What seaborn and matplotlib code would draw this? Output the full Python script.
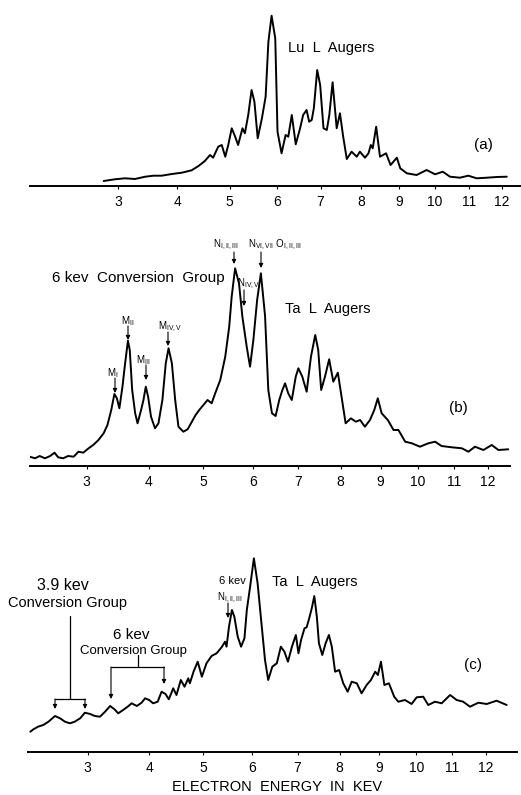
import numpy as np
import matplotlib
matplotlib.use("Agg")
import matplotlib.pyplot as plt
from matplotlib.lines import Line2D
import seaborn as sns

# ---------------- data (energy in keV, intensity in arbitrary units) ----------------
E_a = [2.78, 2.95, 3.11, 3.27, 3.44, 3.58, 3.72, 3.90, 4.08, 4.26, 4.39, 4.51, 4.61, 4.67, 4.77,
       4.84, 4.91, 4.97, 5.04, 5.11, 5.17, 5.26, 5.31, 5.38, 5.45, 5.51, 5.58, 5.67, 5.75, 5.81,
       5.88, 5.96, 6.01, 6.10, 6.19, 6.25, 6.33, 6.42, 6.52, 6.59, 6.67, 6.73, 6.79, 6.84, 6.92,
       6.99, 7.07, 7.15, 7.21, 7.29, 7.39, 7.47, 7.55, 7.64, 7.76, 7.89, 7.97, 8.10, 8.19, 8.25,
       8.30, 8.39, 8.49, 8.65, 8.77, 8.94, 9.03, 9.21, 9.48, 9.76, 10.00, 10.22, 10.43, 10.72,
       10.97, 11.22, 11.53, 11.84, 12.15]
I_a = [5, 6.7, 7.7, 7, 9.3, 10.3, 10.3, 12, 13.3, 15.7, 20, 25, 31, 28.3, 39.3,
       41, 29.3, 41, 57.7, 49.3, 41, 57.7, 52.7, 71, 96, 84.3, 47.7, 67.7, 89.3, 144.3,
       170.3, 147.7, 54.3, 32.7, 51, 49.3, 71, 41.7, 57.7, 71, 76, 64.3, 66, 77.7, 116,
       101, 57.7, 56, 71, 103.7, 57.7, 72.7, 49.3, 27, 34.3, 29.3, 34.3, 28.3, 32.7, 41,
       37.7, 59.3, 29.3, 32.7, 21, 28.3, 17.7, 12.7, 11, 16, 11.7, 14.3, 9.3, 8.3,
       10.3, 7.7, 8.3, 9, 9.3]

E_b = [2.21, 2.28, 2.34, 2.41, 2.48, 2.54, 2.59, 2.66, 2.73, 2.81, 2.88, 2.95, 3.03, 3.10, 3.18,
       3.26, 3.32, 3.38, 3.43, 3.47, 3.51, 3.56, 3.60, 3.65, 3.68, 3.72, 3.77, 3.81, 3.87, 3.91,
       3.95, 3.99, 4.04, 4.11, 4.17, 4.24, 4.30, 4.35, 4.41, 4.47, 4.53, 4.62, 4.70, 4.78, 4.85,
       4.92, 5.00, 5.08, 5.16, 5.23, 5.33, 5.43, 5.51, 5.56, 5.63, 5.71, 5.78, 5.87, 5.94, 6.01,
       6.09, 6.17, 6.26, 6.33, 6.41, 6.49, 6.57, 6.64, 6.70, 6.77, 6.85, 6.94, 7.00, 7.09, 7.19,
       7.29, 7.39, 7.46, 7.53, 7.62, 7.72, 7.82, 7.93, 8.02, 8.12, 8.25, 8.37, 8.48, 8.60, 8.73,
       8.84, 8.93, 9.03, 9.19, 9.34, 9.47, 9.65, 9.83, 10.05, 10.28, 10.47, 10.65, 10.94, 11.23,
       11.42, 11.61, 11.86, 12.11, 12.31, 12.61]
I_b = [9.3, 7.7, 10, 7.7, 10, 13.3, 8.7, 7.7, 10, 9.3, 14.3, 13.3, 17.7, 21, 26,
       32.7, 41, 56, 72, 67.7, 57.7, 79.3, 101, 125.3, 116, 76, 52.7, 42.7, 56, 66,
       79.3, 69.3, 49.3, 37.7, 42.7, 66, 102.7, 117.7, 102.7, 66, 39.3, 34.3, 36.7, 44.3, 51,
       56, 61, 66, 62.7, 72.7, 86, 109.3, 139.3, 169.3, 197.7, 182.7, 149.3, 119.3, 99.3, 126,
       166, 192.7, 150, 76, 52.7, 50, 66, 76, 82.7, 72.7, 66, 89.3, 97.7, 89.3, 74.3,
       109.3, 131, 116, 76, 89.3, 106.7, 84.3, 93.3, 69.3, 42.7, 47.7, 44.3, 46, 39.3, 46,
       56, 67.7, 52.7, 46, 36, 36, 24.3, 22.7, 19.3, 22.7, 24.3, 20, 18.7, 17.7,
       14.3, 19.3, 16, 21, 16, 16.7]

E_c = [2.20, 2.24, 2.30, 2.37, 2.44, 2.53, 2.60, 2.67, 2.74, 2.81, 2.89, 2.96, 3.04, 3.11, 3.19,
       3.27, 3.35, 3.42, 3.48, 3.56, 3.65, 3.70, 3.79, 3.87, 3.93, 4.00, 4.07, 4.15, 4.22, 4.29,
       4.35, 4.43, 4.49, 4.57, 4.64, 4.71, 4.74, 4.81, 4.89, 4.97, 5.06, 5.16, 5.26, 5.36, 5.43,
       5.46, 5.51, 5.57, 5.62, 5.69, 5.76, 5.83, 5.88, 5.95, 6.03, 6.11, 6.20, 6.27, 6.34, 6.43,
       6.53, 6.62, 6.70, 6.78, 6.87, 6.96, 7.02, 7.08, 7.16, 7.21, 7.27, 7.33, 7.39, 7.45, 7.50,
       7.58, 7.66, 7.74, 7.81, 7.89, 7.99, 8.09, 8.20, 8.30, 8.43, 8.55, 8.68, 8.79, 8.90, 8.97,
       9.05, 9.14, 9.26, 9.40, 9.51, 9.69, 9.87, 10.01, 10.19, 10.33, 10.52, 10.71, 10.95, 11.14,
       11.33, 11.53, 11.78, 12.03, 12.33, 12.64]
I_c = [20.3, 22.7, 25.3, 27, 30.3, 36, 33.7, 30.3, 28.7, 30.3, 33.7, 39.3, 38, 36, 35.3,
       40.3, 46, 42.7, 38.7, 42, 46, 48.7, 46, 49.3, 53.7, 52, 48.7, 50.3, 60.3, 58,
       52.7, 63.7, 57, 72, 65.3, 73.7, 68.7, 80.3, 90.3, 75.3, 88.7, 96, 98.7, 104.7, 110.3,
       105.3, 125.3, 142, 135.3, 115.3, 105.3, 113.7, 142, 165.3, 193.7, 168.7, 125.3, 92, 72, 85.3,
       88.7, 105.3, 100.3, 90.3, 105.3, 117, 98.7, 112, 123.7, 124.7, 133.7, 143.7, 156, 135.3, 108.7,
       97, 108.7, 117, 105.3, 80.3, 82, 68.7, 60.3, 70.3, 68.7, 58.7, 67, 72, 80.3, 77,
       90.3, 67, 68.7, 55.3, 50.3, 52, 48, 54.7, 55.3, 47, 50.3, 48.7, 57, 52,
       50.3, 45.3, 49.3, 48, 51.3, 47]

tick_values = [3, 4, 5, 6, 7, 8, 9, 10, 11, 12]
tick_labels = ["3", "4", "5", "6", "7", "8", "9", "10", "11", "12"]

# ---------------- style ----------------
sns.set_style("white")
plt.rcParams["font.family"] = ["Liberation Sans", "DejaVu Sans"]
plt.rcParams["mathtext.fontset"] = "custom"
plt.rcParams["mathtext.rm"] = "Liberation Sans"
plt.rcParams["mathtext.it"] = "Liberation Sans"
plt.rcParams["mathtext.bf"] = "Liberation Sans:bold"

W, H = 521, 795
fig = plt.figure(figsize=(W / 100, H / 100), dpi=100)
fig.patch.set_facecolor("white")


def P(x, y):
    return (x / W, 1 - y / H)


def make_ax(left, right, top, bottom):
    return fig.add_axes([left / W, 1 - bottom / H, (right - left) / W, (bottom - top) / H])


panels = [
    # (E, I, left, right, top, bottom, xlim, ymax)
    (E_a, I_a, 30, 521, 5, 186, (1.7825, 12.601), 181),
    (E_b, I_b, 30, 510, 236, 466, (2.214, 12.664), 230),
    (E_c, I_c, 28, 517, 545, 752, (2.170, 12.961), 207),
]

axes = []
for E, I, l, r, t, b, xl, ym in panels:
    ax = make_ax(l, r, t, b)
    ax.set_xscale("function", functions=(np.sqrt, np.square))
    sns.lineplot(x=E, y=I, ax=ax, color="black", linewidth=1.4,
                 sort=False, estimator=None)
    ax.set_xlim(*xl)
    ax.set_ylim(0, ym)
    ax.set_xticks(tick_values)
    ax.set_xticklabels(tick_labels, fontsize=10)
    ax.set_yticks([])
    ax.minorticks_off()
    ax.set_xlabel("")
    ax.set_ylabel("")
    for s in ["top", "left", "right"]:
        ax.spines[s].set_visible(False)
    ax.spines["bottom"].set_linewidth(1.4)
    ax.spines["bottom"].set_color("black")
    ax.tick_params(axis="x", direction="out", length=2.5, width=0.8, pad=4,
                   colors="black", bottom=True)
    ax.patch.set_alpha(0)
    axes.append(ax)


def txt(x, y, s, size, ha="center", **kw):
    fig.text(*P(x, y), s, fontsize=size, ha=ha, va="center", color="black", **kw)


def arrow(x0, y0, x1, y1):
    fig.add_artist(matplotlib.patches.FancyArrowPatch(
        P(x0, y0), P(x1, y1), transform=fig.transFigure, arrowstyle="-|>",
        mutation_scale=6, lw=0.8, color="black", shrinkA=0, shrinkB=0))


def line(x0, y0, x1, y1):
    fig.add_artist(Line2D([x0 / W, x1 / W], [1 - y0 / H, 1 - y1 / H],
                          transform=fig.transFigure, color="black", lw=0.9))


# ---------------- panel (a) ----------------
txt(288, 48, "Lu  L  Augers", 10.5, ha="left")
txt(483, 145, "(a)", 11)

# ---------------- panel (b) ----------------
txt(52, 278, "6 kev  Conversion  Group", 11, ha="left")
txt(226, 245, r"N$_{\rm I,II,III}$", 7)
arrow(234, 252, 234, 264)
txt(248, 245, r"N$_{\rm VI,VII}$ O$_{\rm I,II,III}$", 7, ha="left")
arrow(261, 252, 261, 268)
txt(249, 284, r"N$_{\rm IV,V}$", 7)
arrow(244, 290, 244, 306)
txt(128, 321, r"M$_{\rm II}$", 7)
arrow(128, 326, 128, 340)
txt(170, 327, r"M$_{\rm IV,V}$", 7)
arrow(168, 332, 168, 346)
txt(144, 360, r"M$_{\rm III}$", 7)
arrow(146, 365, 146, 380)
txt(113, 373, r"M$_{\rm I}$", 7)
arrow(115, 378, 115, 393)
txt(285, 309, "Ta  L  Augers", 10.5, ha="left")
txt(458, 408, "(b)", 11)

# ---------------- panel (c) ----------------
txt(63, 585, "3.9 kev", 11.5)
txt(67, 603, "Conversion Group", 10.5)
line(70, 616, 70, 699)
line(55, 699, 85, 699)
arrow(55, 699, 55, 709)
arrow(85, 699, 85, 709)

txt(131, 635, "6 kev", 11)
txt(133, 651, "Conversion Group", 9.5)
line(138, 655, 138, 667)
line(111, 667, 164, 667)
arrow(111, 667, 111, 699)
arrow(164, 667, 164, 684)

txt(232, 581, "6 kev", 8)
txt(230, 598, r"N$_{\rm I,II,III}$", 7)
arrow(228, 603, 228, 618)

txt(272, 582, "Ta  L  Augers", 10.5, ha="left")
txt(473, 665, "(c)", 11)

txt(277, 787, "ELECTRON  ENERGY  IN  KEV", 10.5)

fig.savefig("out.png", dpi=100, facecolor="white")
